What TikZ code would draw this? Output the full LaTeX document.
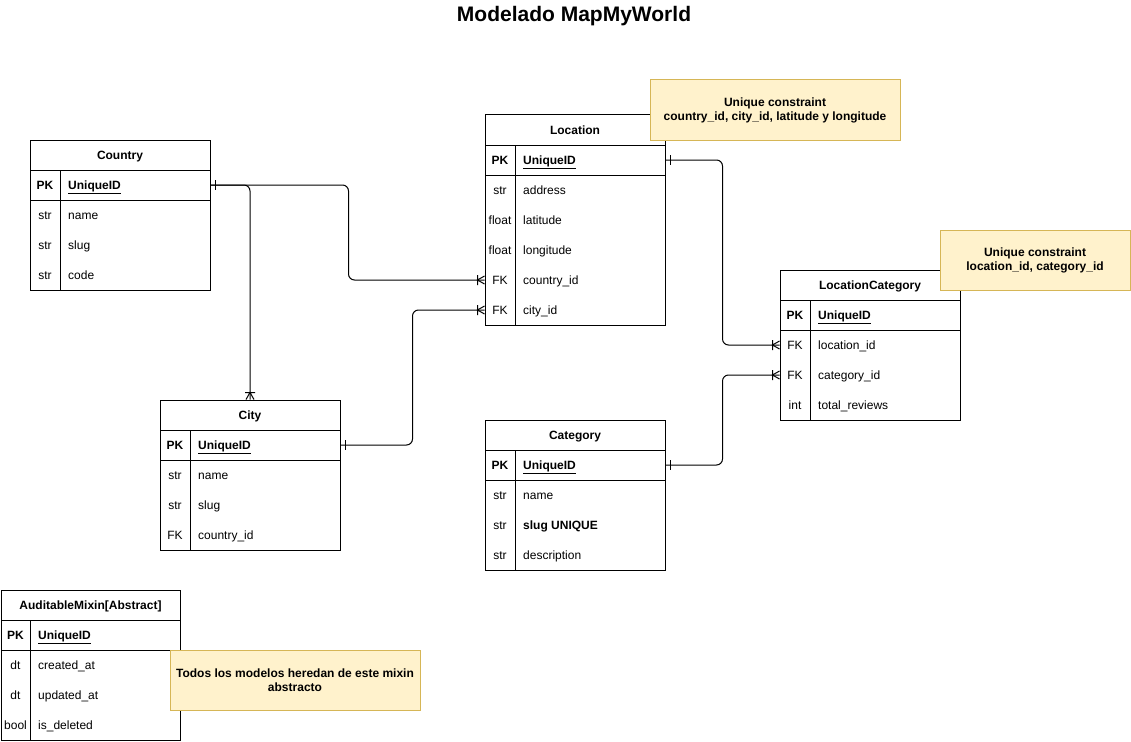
\documentclass[tikz,border=0pt]{standalone}
\usepackage{fontspec}
\setmainfont{Liberation Sans}
\usepackage{tikz}
\usetikzlibrary{calc,decorations.markings}

\begin{document}
\begin{tikzpicture}[x=1pt, y=-1pt, font=\fontsize{12}{14}\selectfont,
    entity/.style={draw, line width=1pt, fill=white, minimum width=180, inner sep=0},
    etitle/.style={font=\fontsize{12}{14}\selectfont\bfseries, inner sep=0, text height=10pt, text depth=1pt},
    key/.style={inner sep=0, text height=10pt, text depth=1pt},
    field/.style={anchor=west, inner sep=0, text height=10pt, text depth=1pt},
    note/.style={draw=noteline, fill=notefill, line width=1pt, align=center,
      font=\fontsize{12}{14}\selectfont\bfseries, inner sep=0},
    rel/.style={line width=1pt, rounded corners=6pt, postaction={decorate},
      decoration={markings,
        mark=at position 5pt with {\draw[line width=1pt, sharp corners] (0,-5) -- (0,5);},
        mark=at position 1 with {\draw[line width=1pt, sharp corners] (-7,-5) -- (-7,5) (0,-4) -- (-7,0) -- (0,4);}}}]
      \definecolor{notefill}{HTML}{FFF2CC} \definecolor{noteline}{HTML}{D6B656}
      \useasboundingbox (0,0) rectangle (1131,741);
      \node[font=\fontsize{21}{25}\selectfont\bfseries] (title) at (574,16) {Modelado MapMyWorld};

      \node[entity, minimum height=150] (country) at (120,215) {};
      \node[etitle] (country-t) at (120,155) {Country};
      \draw[line width=1pt] (30,170) -- (210,170) (30,200) -- (210,200) (60,170) -- (60,290);
      \node[key] at (45,185) {\textbf{PK}}; \node[field] (country-pk) at (68,185) {\textbf{\underline{UniqueID}}};
      \foreach \k/\f [count=\i] in {str/name, str/slug, str/code} {
        \node[key] at (45,185+30*\i) {\k}; \node[field] (country-\i) at (68,185+30*\i) {\f};
      }

      \node[entity, minimum height=210] (location) at (575,220) {};
      \node[etitle] (location-t) at (575,130) {Location};
      \draw[line width=1pt] (485,145) -- (665,145) (485,175) -- (665,175) (515,145) -- (515,325);
      \node[key] at (500,160) {\textbf{PK}}; \node[field] (location-pk) at (523,160) {\textbf{\underline{UniqueID}}};
      \foreach \k/\f [count=\i] in {str/address, float/latitude, float/longitude, FK/country\_id, FK/city\_id} {
        \node[key] at (500,160+30*\i) {\k}; \node[field] (location-\i) at (523,160+30*\i) {\f};
      }

      \node[entity, minimum height=150] (city) at (250,475) {};
      \node[etitle] (city-t) at (250,415) {City};
      \draw[line width=1pt] (160,430) -- (340,430) (160,460) -- (340,460) (190,430) -- (190,550);
      \node[key] at (175,445) {\textbf{PK}}; \node[field] (city-pk) at (198,445) {\textbf{\underline{UniqueID}}};
      \foreach \k/\f [count=\i] in {str/name, str/slug, FK/country\_id} {
        \node[key] at (175,445+30*\i) {\k}; \node[field] (city-\i) at (198,445+30*\i) {\f};
      }

      \node[entity, minimum height=150] (category) at (575,495) {};
      \node[etitle] (category-t) at (575,435) {Category};
      \draw[line width=1pt] (485,450) -- (665,450) (485,480) -- (665,480) (515,450) -- (515,570);
      \node[key] at (500,465) {\textbf{PK}}; \node[field] (category-pk) at (523,465) {\textbf{\underline{UniqueID}}};
      \foreach \k/\f [count=\i] in {str/name, str/{\textbf{slug UNIQUE}}, str/description} {
        \node[key] at (500,465+30*\i) {\k}; \node[field] (category-\i) at (523,465+30*\i) {\f};
      }

      \node[entity, minimum height=150] (lc) at (870,345) {};
      \node[etitle] (lc-t) at (870,285) {LocationCategory};
      \draw[line width=1pt] (780,300) -- (960,300) (780,330) -- (960,330) (810,300) -- (810,420);
      \node[key] at (795,315) {\textbf{PK}}; \node[field] (lc-pk) at (818,315) {\textbf{\underline{UniqueID}}};
      \foreach \k/\f [count=\i] in {FK/location\_id, FK/category\_id, int/total\_reviews} {
        \node[key] at (795,315+30*\i) {\k}; \node[field] (lc-\i) at (818,315+30*\i) {\f};
      }

      \node[entity, minimum width=179, minimum height=150] (mixin) at (90.5,665) {};
      \node[etitle] (mixin-t) at (90.5,605) {AuditableMixin[Abstract]};
      \draw[line width=1pt] (1,620) -- (180,620) (1,650) -- (180,650) (30,620) -- (30,740);
      \node[key] at (15.5,635) {\textbf{PK}}; \node[field] (mixin-pk) at (38,635) {\textbf{\underline{UniqueID}}};
      \foreach \k/\f [count=\i] in {dt/created\_at, dt/updated\_at, bool/is\_deleted} {
        \node[key] at (15.5,635+30*\i) {\k}; \node[field] (mixin-\i) at (38,635+30*\i) {\f};
      }

      \draw[rel] (country.east |- country-pk) -- ++(138,0) |- (location.west |- location-4);
      \draw[rel] (country.east |- country-pk) -| (city.north);
      \draw[rel] (city.east |- city-pk) -- ++(72,0) |- (location.west |- location-5);
      \draw[rel] (location.east |- location-pk) -- ++(57,0) |- (lc.west |- lc-1);
      \draw[rel] (category.east |- category-pk) -- ++(57,0) |- (lc.west |- lc-2);

      \node[note, minimum width=250, minimum height=60] (loc-note) at (775,110) {Unique constraint\\country\_id, city\_id, latitude y longitude};
      \node[note, minimum width=190, minimum height=60] (lc-note) at (1035,260) {Unique constraint\\location\_id, category\_id};
      \node[note, minimum width=250, minimum height=60] (mixin-note) at (295,680) {Todos los modelos heredan de este mixin\\abstracto};
    \end{tikzpicture}
\end{document}
